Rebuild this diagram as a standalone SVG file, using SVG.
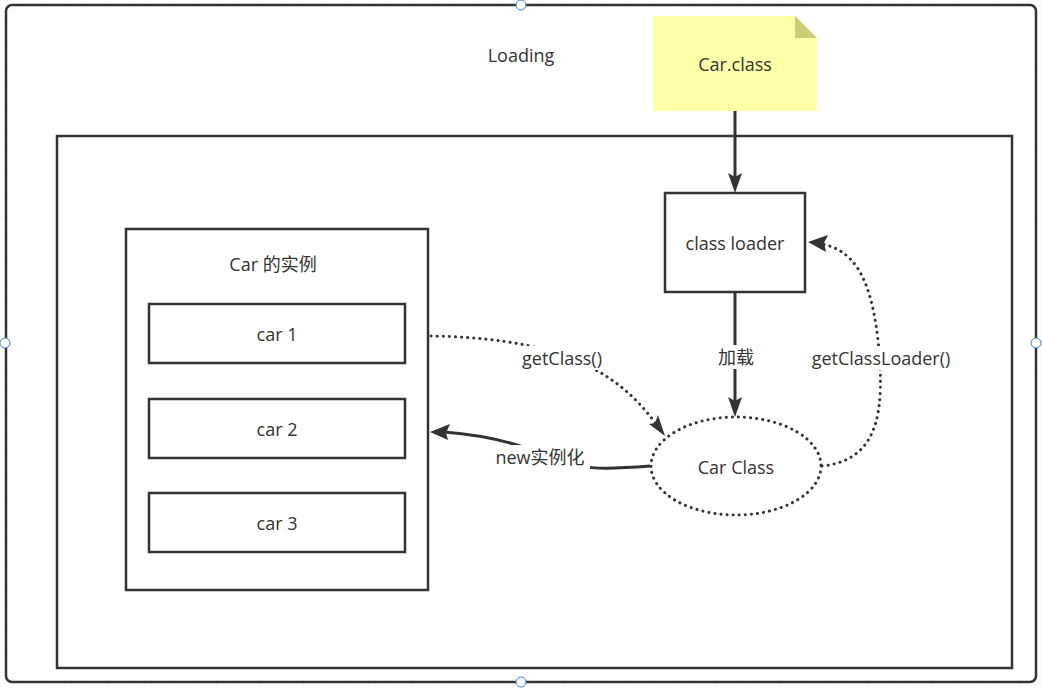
<svg xmlns="http://www.w3.org/2000/svg" width="1042" height="688" viewBox="0 0 1042 688">
<defs>
<pattern id="grid" width="21.7" height="21.7" patternUnits="userSpaceOnUse">
<path d="M21.7 0V21.7M0 21.7H21.7" fill="none" stroke="#eeeeee" stroke-width="1"/>
</pattern>
</defs>
<style>
text{font-family:"Open Sans","Noto Sans CJK SC",sans-serif;font-size:18px;fill:#333;text-anchor:middle;dominant-baseline:central}
.box{fill:#fff;stroke:#333;stroke-width:2.5}
.dot{fill:none;stroke:#333;stroke-width:3;stroke-dasharray:0.1 6;stroke-linecap:round}
.line{fill:none;stroke:#333;stroke-width:3}
.head{fill:#333}
.lbl{fill:#fff}
.handle{fill:#fff;stroke:#3d7fdd;stroke-width:1}
</style>
<rect width="1042" height="688" fill="url(#grid)"/>
<g id="loading">
<rect x="6" y="5" width="1030" height="677" rx="6" fill="#fff" stroke="#333" stroke-width="2.5"/>
<text x="521" y="55">Loading</text>
</g>
<g id="inner">
<rect class="box" x="57" y="136" width="955" height="532"/>
</g>
<g id="carclass-file">
<path d="M653 16H795L817 38V111H653Z" fill="#ffffaa"/>
<path d="M795 16L817 38H795Z" fill="#cdcd78"/>
<text x="735" y="64">Car.class</text>
</g>
<g id="classloader">
<rect class="box" x="665" y="193" width="140" height="99"/>
<text x="735" y="243">class loader</text>
</g>
<g id="instances">
<rect class="box" x="126" y="229" width="302" height="361"/>
<text x="273" y="264">Car 的实例</text>
</g>
<g id="car1">
<rect class="box" x="149" y="304" width="256" height="59"/>
<text x="277" y="334">car 1</text>
</g>
<g id="car2">
<rect class="box" x="149" y="399" width="256" height="59"/>
<text x="277" y="429">car 2</text>
</g>
<g id="car3">
<rect class="box" x="149" y="493" width="256" height="59"/>
<text x="277" y="523">car 3</text>
</g>
<g id="carclass">
<ellipse class="dot" cx="736" cy="466" rx="85" ry="49"/>
<text x="736" y="467">Car Class</text>
</g>
<g id="connectors">
<path class="line" d="M735 111V180"/>
<path class="head" d="M735 193L728 173L735 177L742 173Z"/>
<path class="line" d="M735 292V404"/>
<path class="head" d="M735 417L728 397L735 401L742 397Z"/>
<rect class="lbl" x="712" y="345" width="48" height="24"/>
<text x="736" y="357">加载</text>
<path class="dot" d="M431 336C540 338 610 360 656 424"/>
<path class="head" d="M665 436L649 424L655 423L658 415Z"/>
<rect class="lbl" x="510" y="346" width="104" height="24"/>
<text x="562" y="358">getClass()</text>
<path class="dot" d="M822 466C880 460 885 410 878 340C870 270 850 250 822 244"/>
<path class="head" d="M808 242L828 235L824 243L826 252Z"/>
<rect class="lbl" x="800" y="346" width="162" height="24"/>
<text x="881" y="358">getClassLoader()</text>
<path class="line" d="M650 466C600 470 580 470 545 455C510 440 470 434 444 432"/>
<path class="head" d="M430 432L450 424L446 433L448 440Z"/>
<rect class="lbl" x="490" y="445" width="100" height="24"/>
<text x="540" y="457">new实例化</text>
</g>
<g id="handles">
<circle class="handle" cx="521" cy="5" r="5"/>
<circle class="handle" cx="5" cy="343" r="5"/>
<circle class="handle" cx="1036" cy="343" r="5"/>
<circle class="handle" cx="521" cy="682" r="5"/>
</g>
</svg>
